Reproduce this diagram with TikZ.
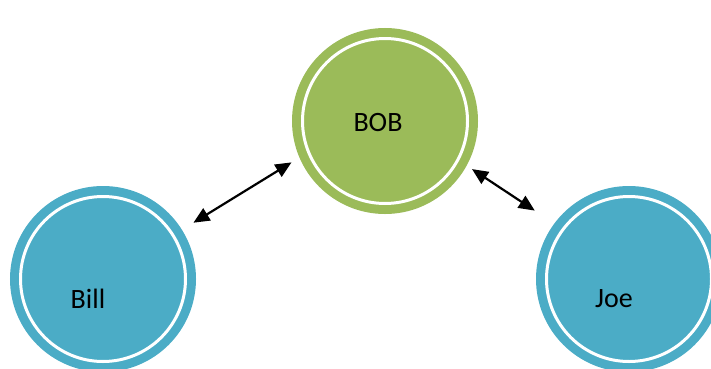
\documentclass[tikz,border=0pt]{standalone}
\usepackage{fontspec}
\setmainfont{Carlito}
\usetikzlibrary{arrows.meta,positioning,calc}
\definecolor{bobgreen}{HTML}{9BBB59}
\definecolor{aquablue}{HTML}{4BACC6}

\begin{document}
\begin{tikzpicture}[x=1pt, y=1pt,
    person/.style={circle, draw=#1, fill=#1, line width=9pt, double=white, double distance=3pt, minimum size=165pt, outer sep=0pt, inner sep=0pt},
    tag/.style={font=\fontsize{28}{32}\selectfont, inner sep=0pt},
    arrow/.style={{Triangle[length=16pt,width=14pt]}-{Triangle[length=16pt,width=14pt]}, line width=2.2pt}
]
\useasboundingbox (0,0) rectangle (711,368);

\node[person=bobgreen] (bob) at (385,247) {};
\node[person=aquablue] (bill) at (103,89) {};
\node[person=aquablue] (joe) at (629,89) {};

\node[tag] (boblabel) at ($(bob.center)+(-7,-2)$) {BOB};
\node[tag] (billlabel) at ($(bill.center)+(-15,-20)$) {Bill};
\node[tag] (joelabel) at ($(joe.center)+(-15,-20)$) {Joe};

\draw[arrow, shorten <=24pt, shorten >=20pt] (bill.32) -- (bob.202);
\draw[arrow, shorten <=17pt, shorten >=34pt] (bob.-28) -- (joe.143);
\end{tikzpicture}
\end{document}
